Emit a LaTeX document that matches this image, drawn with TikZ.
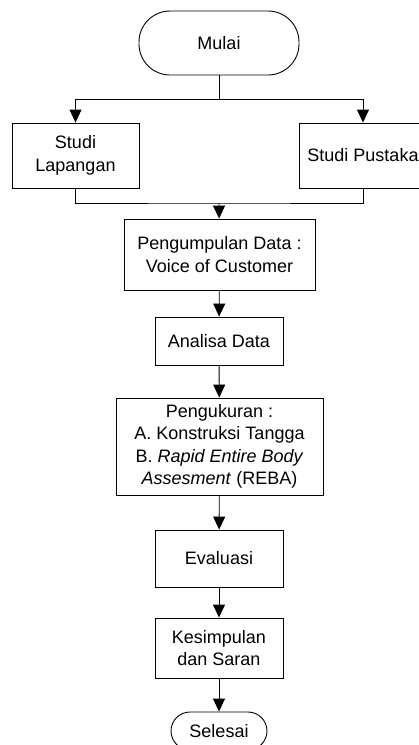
\documentclass[tikz,border=0pt]{standalone}
\usepackage{fontspec}
\setmainfont{Liberation Sans}
\usetikzlibrary{arrows.meta}
\begin{document}
\begin{tikzpicture}[x=1pt,y=-1pt,
  box/.style={draw,line width=0.9pt,align=center,inner sep=0pt,font=\fontsize{18}{22.5}\selectfont},
  term/.style={box,rounded corners=#1},
  arr/.style={-{Triangle[length=13pt,width=12pt]}},
  conn/.style={line width=0.9pt}]
\useasboundingbox (0,0) rectangle (419,745);
\clip (0,0) rectangle (419,745);
\node[term=31pt,minimum width=160pt,minimum height=64pt] (mulai) at (219,43) {Mulai};
\node[box,minimum width=127pt,minimum height=65pt] (lap) at (75.5,155.5) {Studi\\Lapangan};
\node[box,minimum width=128pt,minimum height=65pt] (pus) at (363,155.5) {Studi Pustaka};
\node[box,minimum width=191pt,minimum height=71pt] (pdata) at (219.5,254.5) {Pengumpulan Data :\\Voice of Customer};
\node[box,minimum width=128pt,minimum height=48pt] (anal) at (219,341) {Analisa Data};
\node[box,minimum width=207pt,minimum height=97pt] (ukur) at (219.5,446.5) {Pengukuran :\\A. Konstruksi Tangga\\B. \textit{Rapid Entire Body}\\\textit{Assesment} (REBA)};
\node[box,minimum width=128pt,minimum height=57pt] (eval) at (219,558.5) {Evaluasi};
\node[box,minimum width=128pt,minimum height=60pt] (kes) at (219,648) {Kesimpulan\\dan Saran};
\node[term=19pt,minimum width=96pt,minimum height=38pt] (sel) at (219,731) {Selesai};
\coordinate (j1) at (219,99);
\coordinate (j2) at (219,203);
\draw[conn] (mulai) -- (j1);
\draw[conn,arr] (j1) -| (lap.north);
\draw[conn,arr] (j1) -| (pus.north);
\draw[conn] (lap.south) |- (j2) -| (pus.south);
\draw[conn,arr] (j2) -- (pdata);
\draw[conn,arr] (pdata) -- (anal);
\draw[conn,arr] (anal) -- (ukur);
\draw[conn,arr] (ukur) -- (eval);
\draw[conn,arr] (eval) -- (kes);
\draw[conn,arr] (kes) -- (sel);
\end{tikzpicture}
\end{document}
